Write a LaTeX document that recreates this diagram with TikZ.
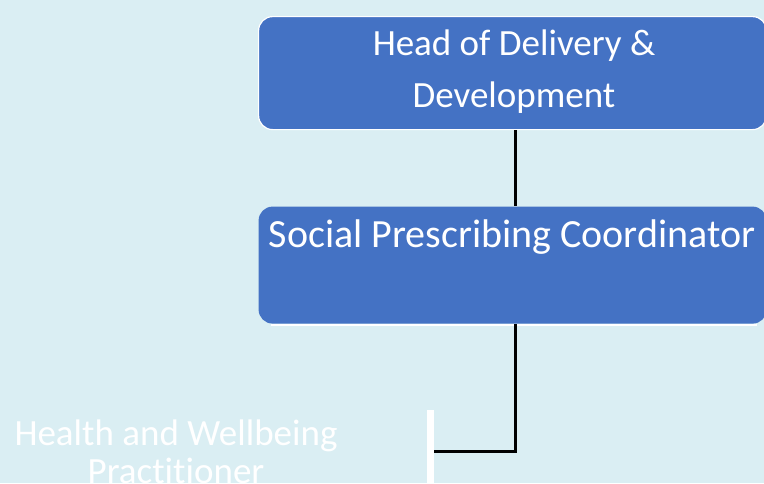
\documentclass[tikz,border=0pt]{standalone}
\usepackage{fontspec}
\setmainfont[Ligatures=NoCommon]{Carlito}
\definecolor{bg}{HTML}{DAEEF3}
\definecolor{boxblue}{HTML}{4472C4}
\begin{document}
\begin{tikzpicture}[x=1pt,y=-1pt,
  rolebox/.style={fill=boxblue, rounded corners=14pt, draw=white, line width=1.2pt, inner sep=0pt, anchor=north west},
  rolelabel/.style={text=white, inner sep=0pt, align=center},
  link/.style={draw=black, line width=3pt}]
\fill[bg] (0,0) rectangle (764,483);
\useasboundingbox (0,0) rectangle (764,483);
% boxes
\node[rolebox, minimum width=508pt, minimum height=113pt] (head) at (258,16) {};
\node[rolebox, draw=none, minimum width=508pt, minimum height=117pt] (spc) at (258,206) {};
\coordinate (shA) at (271,325);
\coordinate (shB) at (757,325);
\draw[white, line width=2pt] (shA) -- (shB);
% labels
\node[rolelabel, font=\fontsize{37}{52}\selectfont, anchor=base] (headlbl) at (514,55) {Head of Delivery \&};
\node[rolelabel, font=\fontsize{37}{52}\selectfont, anchor=base] (headlbl2) at (514,107) {Development};
\node[rolelabel, font=\fontsize{40}{48}\selectfont, anchor=base] (spclbl) at (512,247) {Social Prescribing Coordinator};
\node[rolelabel, font=\fontsize{37}{39}\selectfont, anchor=base] (hwp) at (176,445) {Health and Wellbeing};
\node[rolelabel, font=\fontsize{37}{39}\selectfont, anchor=base] (hwp2) at (176,483) {Practitioner};
% connectors
\coordinate (c1) at (515,129);
\coordinate (c2) at (515,206);
\draw[link] (head.south -| c1) -- (spc.north -| c2);
\coordinate (c3) at (515,324);
\coordinate (corner) at (515,451);
\coordinate (endp) at (433,451);
\draw[link] (c3) -- (corner) -- (endp);
% white bar
\coordinate (wbA) at (430,410);
\coordinate (wbB) at (430,483);
\draw[white, line width=7pt] (wbA) -- (wbB);
\end{tikzpicture}
\end{document}
